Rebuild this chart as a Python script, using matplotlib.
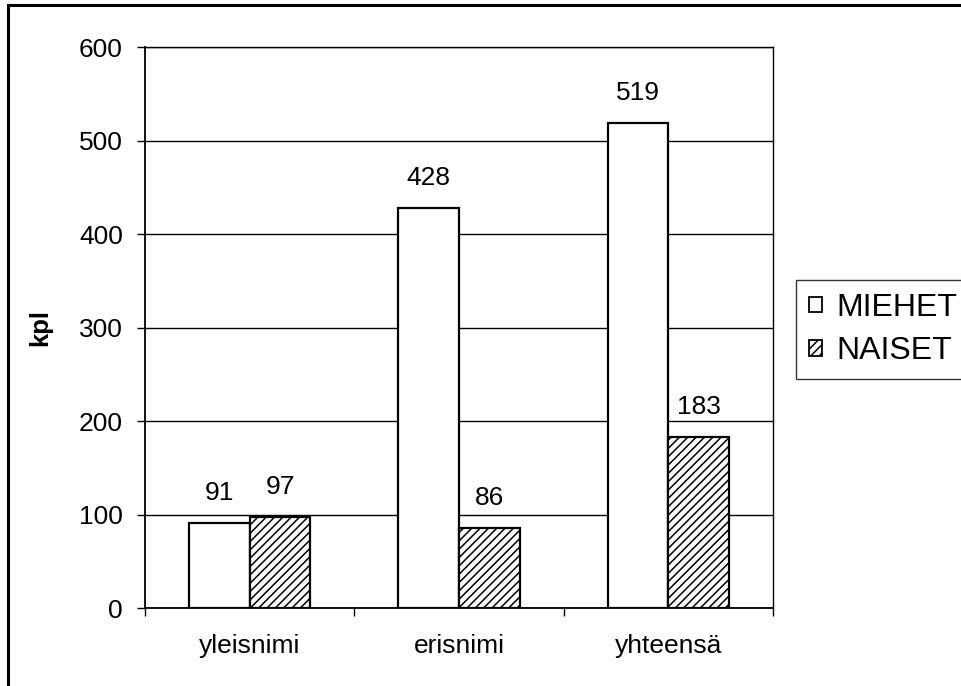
import matplotlib
matplotlib.use("Agg")
import matplotlib.pyplot as plt
from matplotlib.lines import Line2D
from matplotlib.patches import Patch
import numpy as np

categories = ['yleisnimi', 'erisnimi', 'yhteensä']
miehet = [91, 428, 519]
naiset = [97, 86, 183]
series_names = ['MIEHET', 'NAISET']
yticks = [0, 100, 200, 300, 400, 500, 600]

plt.rcParams['font.family'] = ['Liberation Sans', 'DejaVu Sans']
plt.rcParams['hatch.linewidth'] = 1.1
plt.rcParams['hatch.color'] = 'black'

fig = plt.figure(figsize=(9.61, 6.86), dpi=100)
ax = fig.add_axes([145/961, 1-608/686, (773-145)/961, (608-47)/686])

x = np.arange(len(categories))
w = 0.29
b1 = ax.bar(x - w/2, miehet, w, color='white', edgecolor='black', linewidth=1.6, zorder=3)
b2 = ax.bar(x + w/2, naiset, w, color='white', edgecolor='black', linewidth=1.6,
            hatch='////', zorder=3)

for bars, vals in ((b1, miehet), (b2, naiset)):
    for r, v in zip(bars, vals):
        ax.annotate(f"{v}", (r.get_x() + r.get_width()/2, v), xytext=(0, 13),
                    textcoords='offset points', ha='center', va='bottom', fontsize=19)

ax.set_xlim(-0.5, 2.5)
ax.set_ylim(0, 600)
ax.set_yticks(yticks)
ax.set_yticklabels([str(t) for t in yticks], fontsize=19)
ax.yaxis.grid(True, color='black', linewidth=1.0, zorder=0)
ax.set_axisbelow(True)

ax.set_xticks(x)
ax.set_xticklabels(categories, fontsize=19)
ax.tick_params(axis='x', which='major', length=0, pad=19)
ax.set_xticks([-0.5, 0.5, 1.5, 2.5], minor=True)
ax.tick_params(axis='x', which='minor', length=6, width=1, direction='out')
ax.tick_params(axis='y', length=6, width=1, direction='out', pad=10)

for s in ax.spines.values():
    s.set_color('black')
    s.set_linewidth(1.0)
ax.spines['left'].set_linewidth(1.3)
ax.spines['bottom'].set_linewidth(1.3)

ax.set_ylabel('kpl', fontsize=18.5, fontweight='bold')
ax.yaxis.set_label_coords((52-145)/628, 0.5)

handles = [Patch(facecolor='white', edgecolor='black', linewidth=1.3),
           Patch(facecolor='white', edgecolor='black', linewidth=1.3, hatch='////')]
leg = fig.legend(handles, series_names, loc='upper left',
                 bbox_to_anchor=(796/961, 1-280/686), fontsize=23,
                 frameon=True, fancybox=False, shadow=False,
                 handlelength=0.42, handleheight=0.37, handletextpad=0.45,
                 borderpad=0.4, labelspacing=0.42, borderaxespad=0)
leg.get_frame().set_edgecolor('black')
leg.get_frame().set_linewidth(1.0)

fig.add_artist(Line2D([8/961, 1.0], [1-5/686, 1-5/686], transform=fig.transFigure,
                      color='black', linewidth=2.2))
fig.add_artist(Line2D([8/961, 8/961], [1-5/686, 0.0], transform=fig.transFigure,
                      color='black', linewidth=2.2))

fig.savefig('out.png', dpi=100)
